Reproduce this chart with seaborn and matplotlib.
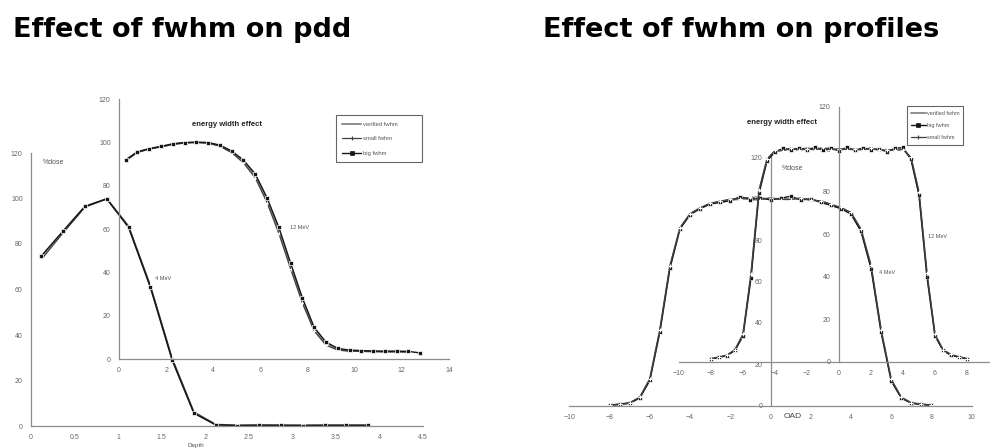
import matplotlib
matplotlib.use("Agg")
import matplotlib.pyplot as plt
from matplotlib.lines import Line2D
import seaborn as sns

# ---- data ----
# pdd, 4 MeV (big axes, left)
depth_4 = [0.12, 0.37, 0.62, 0.87, 1.12, 1.37, 1.62, 1.87, 2.12, 2.37, 2.62, 2.87, 3.12, 3.37, 3.62, 3.87]
pdd4_verified = [74.4, 85.4, 96.4, 99.9, 87.6, 61.4, 29.4, 5.9, 0.6, 0.3, 0.3, 0.3, 0.3, 0.3, 0.3, 0.3]
pdd4_small = [73.2, 85.0, 96.2, 99.9, 87.9, 61.8, 29.8, 6.2, 0.7, 0.3, 0.4, 0.3, 0.3, 0.3, 0.3, 0.3]
pdd4_big = [74.8, 85.8, 96.6, 99.8, 87.3, 61.0, 29.0, 5.6, 0.5, 0.2, 0.3, 0.3, 0.2, 0.3, 0.3, 0.3]

# pdd, 12 MeV (inset, left)
depth_12 = [0.28, 0.78, 1.28, 1.78, 2.28, 2.78, 3.28, 3.78, 4.28, 4.78, 5.28, 5.78, 6.28,
            6.78, 7.28, 7.78, 8.28, 8.78, 9.28, 9.78, 10.28, 10.78, 11.28, 11.78, 12.28]
depth_12_big = depth_12 + [12.78]
pdd12_verified = [91.7, 95.5, 97.0, 98.0, 99.2, 99.8, 100.0, 99.8, 98.5, 95.7, 91.2, 84.6, 73.4,
                  59.5, 43.0, 27.0, 13.8, 7.2, 4.5, 3.8, 3.7, 3.5, 3.4, 3.4, 3.3]
pdd12_small = [91.5, 95.3, 96.9, 97.9, 99.0, 99.7, 100.0, 99.6, 98.2, 95.2, 90.5, 83.6, 72.2,
               58.0, 41.6, 25.8, 12.9, 6.4, 4.1, 3.6, 3.5, 3.4, 3.3, 3.3, 3.2]
pdd12_big = [91.9, 95.6, 97.1, 98.1, 99.3, 99.9, 100.0, 99.9, 98.7, 96.0, 91.8, 85.4, 74.4,
             60.8, 44.3, 28.2, 14.6, 7.8, 4.9, 4.1, 3.9, 3.7, 3.6, 3.6, 3.5, 2.8]

# profiles, 4 MeV (big axes, right)
oad = [-8, -7.5, -7, -6.5, -6, -5.5, -5, -4.5, -4, -3.5, -3, -2.5, -2, -1.5, -1, -0.5, 0,
       0.5, 1, 1.5, 2, 2.5, 3, 3.5, 4, 4.5, 5, 5.5, 6, 6.5, 7, 7.5, 8]
prof4_verified = [0.2, 0.7, 1.3, 3.9, 12.6, 36.2, 67.0, 85.7, 92.5, 95.4, 97.6, 98.5, 99.4, 99.8, 100.0, 100.0, 100.0,
                  99.9, 100.0, 99.8, 99.6, 98.6, 97.0, 95.4, 93.0, 84.8, 67.0, 36.0, 12.4, 3.9, 1.3, 0.7, 0.2]
prof4_big = [0.2, 0.6, 1.2, 3.7, 12.2, 35.6, 66.4, 85.4, 92.3, 95.2, 97.4, 98.2, 99.0, 101.0, 99.6, 100.4, 99.4,
             100.2, 101.2, 99.4, 100.0, 98.2, 96.8, 95.2, 92.6, 84.2, 66.2, 35.4, 12.0, 3.7, 1.2, 0.6, 0.2]
prof4_small = [0.3, 0.8, 1.4, 4.1, 13.0, 36.8, 67.6, 86.0, 92.8, 95.6, 97.8, 98.8, 99.8, 100.0, 100.6, 99.6, 100.4,
               99.6, 99.6, 100.4, 99.2, 99.0, 97.4, 95.8, 93.4, 85.4, 67.8, 36.6, 12.8, 4.1, 1.4, 0.8, 0.3]

# profiles, 12 MeV (inset, right)
prof12_verified = [1.4, 2.1, 3.0, 5.5, 12.6, 40.5, 80.0, 95.0, 99.0, 99.6, 100.2, 99.8, 100.5, 100.0, 100.6, 100.0, 99.8,
                   100.2, 99.8, 100.0, 100.4, 99.6, 99.4, 99.8, 100.2, 95.7, 79.2, 40.8, 12.6, 5.5, 3.2, 2.2, 1.4]
prof12_big = [1.4, 2.0, 2.9, 5.3, 12.2, 39.6, 79.2, 94.6, 98.6, 100.4, 99.6, 100.6, 99.6, 100.8, 99.6, 100.6, 99.2,
              100.8, 99.4, 100.6, 99.8, 100.2, 98.8, 100.4, 100.8, 95.2, 78.4, 40.0, 12.2, 5.3, 3.0, 2.1, 1.4]
prof12_small = [1.5, 2.2, 3.1, 5.7, 13.0, 41.4, 80.8, 95.4, 99.4, 99.2, 100.6, 99.4, 100.2, 99.6, 100.8, 99.6, 100.2,
                99.8, 100.0, 99.6, 100.6, 99.4, 99.6, 99.4, 99.8, 96.2, 80.0, 41.6, 13.0, 5.7, 3.4, 2.3, 1.5]

W, H = 990, 448

sns.set_theme(style="white")
plt.rcParams["font.family"] = ["Liberation Sans", "DejaVu Sans"]

fig = plt.figure(figsize=(W / 100, H / 100), dpi=100)
fig.patch.set_facecolor("white")


def box(x0, x1, ytop, ybot):
    # pixel box -> figure fractions
    return [x0 / W, 1 - ybot / H, (x1 - x0) / W, (ybot - ytop) / H]


def style(ax, xticks, yticks, xfmt=None):
    ax.patch.set_visible(False)
    for s in ["top", "right"]:
        ax.spines[s].set_visible(False)
    for s in ["left", "bottom"]:
        ax.spines[s].set_color("#8c8c8c")
        ax.spines[s].set_linewidth(0.9)
    ax.set_xticks(xticks)
    ax.set_yticks(yticks)
    if xfmt is not None:
        ax.set_xticklabels(xfmt)
    ax.tick_params(axis="both", direction="out", length=2, width=0.6, color="#8c8c8c",
                   labelsize=5, labelcolor="#666666", pad=4)
    ax.set_xlabel("")
    ax.set_ylabel("")


VER = dict(color="#8f8f8f", linewidth=1.4)
SMALL = dict(color="#404040", linewidth=0.9, marker="+", markersize=3, markeredgewidth=0.8)
BIG = dict(color="#151515", linewidth=1.0, marker="s", markersize=2.2, markeredgewidth=0.5)


def draw(ax, x, y, kw):
    sns.lineplot(x=x, y=y, ax=ax, sort=False, estimator=None, legend=False, **kw)


# ---------- left panel ----------
ax1 = fig.add_axes(box(31, 423, 153, 426))
draw(ax1, depth_4, pdd4_verified, VER)
draw(ax1, depth_4, pdd4_small, SMALL)
draw(ax1, depth_4, pdd4_big, BIG)
ax1.set_xlim(0, 4.5)
ax1.set_ylim(0, 120)
style(ax1, [0, 0.5, 1, 1.5, 2, 2.5, 3, 3.5, 4, 4.5], range(0, 121, 20),
      ["0", "0.5", "1", "1.5", "2", "2.5", "3", "3.5", "4", "4.5"])

ax2 = fig.add_axes(box(119, 449, 99, 359))
draw(ax2, depth_12, pdd12_verified, VER)
draw(ax2, depth_12, pdd12_small, SMALL)
draw(ax2, depth_12_big, pdd12_big, BIG)
ax2.set_xlim(0, 14)
ax2.set_ylim(0, 120)
style(ax2, range(0, 15, 2), range(0, 121, 20))

h_left = [Line2D([], [], **VER), Line2D([], [], **SMALL), Line2D([], [], **BIG)]
leg = ax2.legend(h_left, ["verified fwhm", "small fwhm", "big fwhm"],
                 loc="upper left", bbox_to_anchor=(333 / W, 1 - 117 / H, 92 / W, 0.01),
                 bbox_transform=fig.transFigure, mode="expand", fontsize=4.2,
                 frameon=True, fancybox=False, edgecolor="#666666", framealpha=1,
                 handlelength=3.2, labelspacing=1.6, borderpad=1.1, handletextpad=0.3)
leg.get_frame().set_linewidth(0.8)
for t in leg.get_texts():
    t.set_color("#555555")

# ---------- right panel ----------
ax3 = fig.add_axes(box(569.3, 971.7, 157.3, 405.7))
draw(ax3, oad, prof4_verified, VER)
draw(ax3, oad, prof4_big, BIG)
draw(ax3, oad, prof4_small, SMALL)
ax3.set_xlim(-10, 10)
ax3.set_ylim(0, 120)
ax3.spines["left"].set_position(("data", 0))
style(ax3, range(-10, 11, 2), range(0, 121, 20))

ax4 = fig.add_axes(box(679, 999, 106.7, 361.7))
draw(ax4, oad, prof12_verified, VER)
draw(ax4, oad, prof12_big, BIG)
draw(ax4, oad, prof12_small, SMALL)
ax4.set_xlim(-10, 10)
ax4.set_ylim(0, 120)
ax4.spines["left"].set_position(("data", 0))
# the tick at 10 falls past the picture's right edge
style(ax4, range(-10, 9, 2), range(0, 121, 20))

h_right = [Line2D([], [], **VER), Line2D([], [], **BIG), Line2D([], [], **SMALL)]
leg2 = ax4.legend(h_right, ["verified fwhm", "big fwhm", "small fwhm"],
                  loc="upper left", bbox_to_anchor=(904 / W, 1 - 108 / H, 62 / W, 0.01),
                  bbox_transform=fig.transFigure, mode="expand", fontsize=4.0,
                  frameon=True, fancybox=False, edgecolor="#666666", framealpha=1,
                  handlelength=2.6, labelspacing=1.3, borderpad=0.8, handletextpad=0.3)
leg2.get_frame().set_linewidth(0.8)
for t in leg2.get_texts():
    t.set_color("#555555")

# ---------- texts ----------
title_kw = dict(fontsize=19.5, fontweight="bold", family=["DejaVu Sans"], va="baseline", color="black")
fig.text(13 / W, 1 - 37 / H, "Effect of fwhm on pdd", **title_kw)
fig.text(543 / W, 1 - 37 / H, "Effect of fwhm on profiles", **title_kw)

small_kw = dict(fontsize=5, color="#555555", va="center")
fig.text(43 / W, 1 - 162 / H, "%dose", ha="left", **small_kw)
fig.text(227 / W, 1 - 124 / H, "energy width effect", ha="center", fontsize=5.5,
         fontweight="bold", color="#222222", va="center")
fig.text(163 / W, 1 - 279 / H, "4 MeV", ha="center", fontsize=4, color="#555555", va="center")
fig.text(299 / W, 1 - 227 / H, "12 MeV", ha="center", fontsize=4, color="#555555", va="center")
fig.text(196 / W, 1 - 447.5 / H, "Depth", ha="center", fontsize=4.5, color="#555555", va="bottom")

fig.text(782 / W, 1 - 122 / H, "energy width effect", ha="center", fontsize=5.5,
         fontweight="bold", color="#222222", va="center")
fig.text(782 / W, 1 - 169 / H, "%dose", ha="left", **small_kw)
fig.text(784 / W, 1 - 416 / H, "OAD", ha="left", fontsize=6, color="#444444", va="center")
fig.text(887 / W, 1 - 272 / H, "4 MeV", ha="center", fontsize=4, color="#555555", va="center")
fig.text(938 / W, 1 - 237 / H, "12 MeV", ha="center", fontsize=4, color="#555555", va="center")

fig.savefig("out.png", dpi=100, facecolor="white")
